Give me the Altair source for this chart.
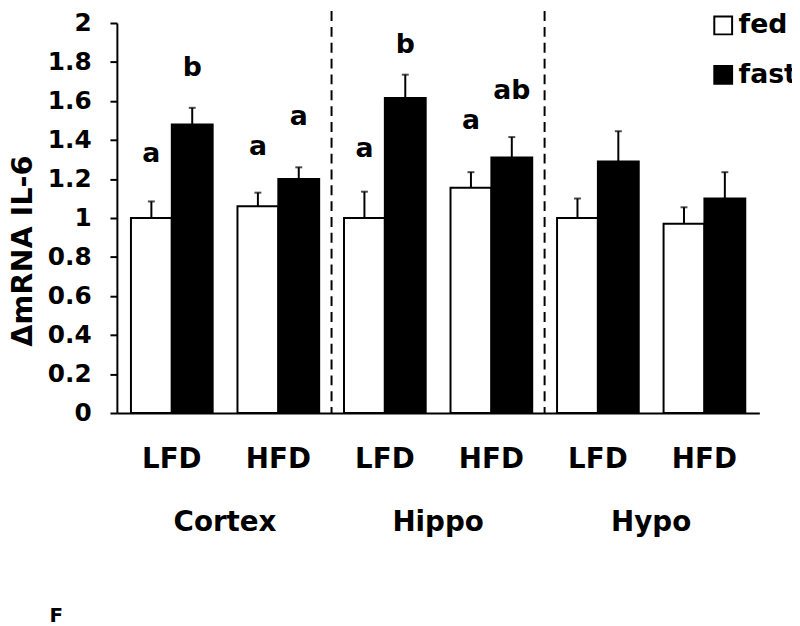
import altair as alt
import pandas as pd

# ---- data ----
regions = ["Cortex", "Hippo", "Hypo"]
diets = ["LFD", "HFD"]
conditions = ["fed", "fast"]

fed_mean = [1.0, 1.06, 1.0, 1.155, 1.0, 0.97]
fed_sem = [0.085, 0.07, 0.135, 0.08, 0.1, 0.085]
fast_mean = [1.48, 1.2, 1.615, 1.31, 1.29, 1.1]
fast_sem = [0.085, 0.06, 0.12, 0.105, 0.155, 0.135]

fed_letters = ["a", "a", "a", "a", "", ""]
fast_letters = ["b", "a", "b", "ab", "", ""]
fed_letter_y = [1.289, 1.323, 1.315, 1.455, 0, 0]
fast_letter_y = [1.726, 1.476, 1.848, 1.608, 0, 0]

y_ticks = [0, 0.2, 0.4, 0.6, 0.8, 1.0, 1.2, 1.4, 1.6, 1.8, 2.0]
panel_tag = ["F"]

FONT = "DejaVu Sans"
HALF_GAP = 12.5  # px: half of the gap between bands

# ---- tables ----
keys = [f"{r} {d}" for r in regions for d in diets]
rows = []
for i, k in enumerate(keys):
    for cond, m, s, lt, ly in (
        ("fed", fed_mean[i], fed_sem[i], fed_letters[i], fed_letter_y[i]),
        ("fast", fast_mean[i], fast_sem[i], fast_letters[i], fast_letter_y[i]),
    ):
        rows.append({"key": k, "condition": cond, "mean": m, "top": m + s,
                     "letter": lt, "ly": ly})
df = pd.DataFrame(rows)
df_letters = df[df["letter"] != ""]

# dividers sit in the gap after the last band of Cortex and Hippo
df_div = pd.DataFrame({"key": [f"{r} {diets[1]}" for r in regions[:-1]]})
# region names sit in the gap between LFD and HFD of each region
df_reg = pd.DataFrame({"key": [f"{r} {diets[0]}" for r in regions],
                       "region": regions})
df_tag = pd.DataFrame({"t": panel_tag})

x_scale = alt.Scale(paddingInner=0.233, paddingOuter=0.132)
x_axis = alt.Axis(title=None, labelExpr="slice(datum.label, -3)")
xo = alt.XOffset("condition:N", sort=conditions,
                 scale=alt.Scale(paddingInner=0, paddingOuter=0))
y_scale = alt.Scale(domain=[0, 2], nice=False)
y_axis = alt.Axis(values=y_ticks, format="~g", title="ΔmRNA IL-6")


def xenc():
    return alt.X("key:N", sort=keys, scale=x_scale, axis=x_axis)


def yenc(field):
    return alt.Y(field, scale=y_scale, axis=y_axis)


bars = alt.Chart(df).mark_bar(stroke="black", strokeWidth=2).encode(
    x=xenc(),
    xOffset=xo,
    y=yenc("mean:Q"),
    fill=alt.Fill("condition:N",
                  scale=alt.Scale(domain=conditions, range=["white", "black"]),
                  legend=alt.Legend(orient="none", legendX=599, legendY=-11,
                                    title=None, symbolType="square",
                                    symbolSize=324, symbolStrokeColor="black",
                                    symbolStrokeWidth=2, labelFont=FONT,
                                    labelFontSize=27, labelFontWeight="bold",
                                    labelColor="black", rowPadding=22,
                                    labelOffset=2, padding=0)),
)

err = alt.Chart(df).mark_rule(color="black", strokeWidth=2).encode(
    x=xenc(),
    xOffset=xo,
    y=yenc("mean:Q"),
    y2="top:Q",
)

caps = alt.Chart(df).mark_tick(color="black", size=7, thickness=2).encode(
    x=xenc(),
    xOffset=xo,
    y=yenc("top:Q"),
)

letters = alt.Chart(df_letters).mark_text(
    font=FONT, fontSize=27, fontWeight="bold", color="black",
    baseline="alphabetic", align="center"
).encode(
    x=xenc(),
    xOffset=xo,
    y=yenc("ly:Q"),
    text="letter:N",
)

dividers = alt.Chart(df_div).mark_rule(
    color="black", strokeWidth=2, strokeDash=[10, 6], xOffset=HALF_GAP
).encode(
    x=alt.X("key:N", sort=keys, scale=x_scale, axis=x_axis, bandPosition=1),
    y=alt.value(-12),
    y2=alt.value(394),
)

region_labels = alt.Chart(df_reg).mark_text(
    font=FONT, fontSize=28, fontWeight="bold", color="black",
    baseline="alphabetic", align="center", dx=HALF_GAP
).encode(
    x=alt.X("key:N", sort=keys, scale=x_scale, axis=x_axis, bandPosition=1),
    y=alt.value(513),
    text="region:N",
)

tag = alt.Chart(df_tag).mark_text(
    font=FONT, fontSize=20, fontWeight="bold", color="black",
    baseline="alphabetic", align="left"
).encode(
    x=alt.value(-68),
    y=alt.value(605),
    text="t:N",
)

chart = alt.layer(bars, err, caps, letters, dividers, region_labels, tag).properties(
    width=649,
    height=394,
    padding={"left": 110, "top": 12, "right": 33, "bottom": 212},
    autosize=alt.AutoSizeParams(type="none"),
    background="white",
).configure_view(
    stroke=None
).configure_axisX(
    labelAngle=0, ticks=False, domainWidth=2, domainColor="black",
    labelFont=FONT, labelFontSize=28, labelFontWeight="bold",
    labelColor="black", labelPadding=33, grid=False,
).configure_axisY(
    grid=False, tickSize=7, tickWidth=2, tickColor="black", domainWidth=2,
    domainColor="black", labelFont=FONT, labelFontSize=25,
    labelFontWeight="bold", labelColor="black", labelPadding=19,
    labelOverlap=False, titleFont=FONT, titleFontSize=29,
    titleFontWeight="bold", titleColor="black", titleX=-86, titleY=230,
    titleAngle=270, titleAlign="center", titleBaseline="alphabetic",
)

chart.save("out.html", embed_options={"renderer": "svg", "actions": False})
